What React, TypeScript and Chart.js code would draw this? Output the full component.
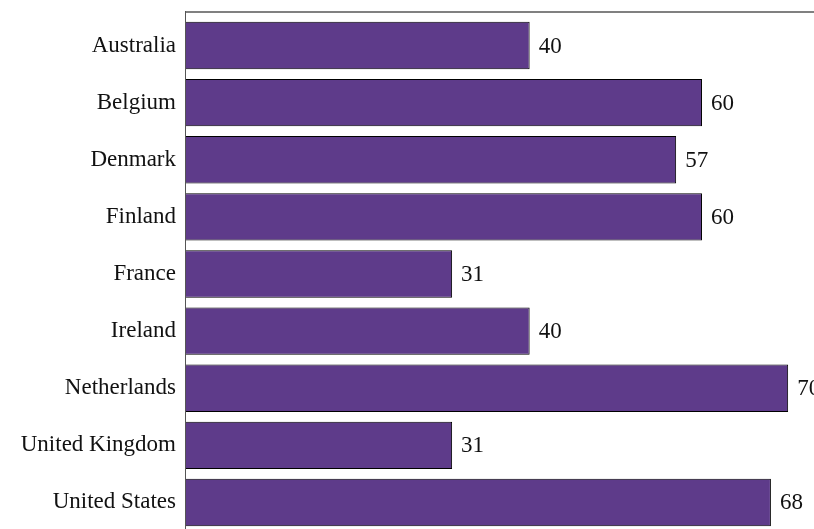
import React, { useEffect, useRef } from "react";
import { Chart, registerables } from "chart.js";

Chart.register(...registerables);

const categories = [
  "Australia",
  "Belgium",
  "Denmark",
  "Finland",
  "France",
  "Ireland",
  "Netherlands",
  "United Kingdom",
  "United States",
];
const values = [40, 60, 57, 60, 31, 40, 70, 31, 68];

const FONT = "'Liberation Serif', 'Times New Roman', serif";

const framePlugin = {
  id: "frame",
  afterDatasetsDraw(chart: any) {
    const { ctx, chartArea } = chart;
    ctx.save();
    // top line
    ctx.strokeStyle = "#808080";
    ctx.lineWidth = 2;
    ctx.beginPath();
    ctx.moveTo(chartArea.left, 12);
    ctx.lineTo(chartArea.right, 12);
    ctx.stroke();
    // left axis
    ctx.strokeStyle = "#555555";
    ctx.lineWidth = 1;
    ctx.beginPath();
    ctx.moveTo(chartArea.left + 0.5, 11);
    ctx.lineTo(chartArea.left + 0.5, chartArea.bottom);
    ctx.stroke();
    // value labels
    const meta = chart.getDatasetMeta(0);
    ctx.fillStyle = "#111111";
    ctx.font = `23px ${FONT}`;
    ctx.textAlign = "left";
    ctx.textBaseline = "middle";
    meta.data.forEach((bar: any, i: number) => {
      ctx.fillText(String(values[i]), bar.x + 9, bar.y + 1);
    });
    ctx.restore();
  },
};

export default function App() {
  const ref = useRef<HTMLCanvasElement>(null);
  useEffect(() => {
    document.body.style.margin = "0";
    const chart = new Chart(ref.current!, {
      type: "bar",
      data: {
        labels: categories,
        datasets: [
          {
            data: values,
            backgroundColor: "#5E3B8A",
            borderColor: "#000000",
            borderWidth: 1,
            categoryPercentage: 1,
            barPercentage: 0.83,
          },
        ],
      },
      options: {
        indexAxis: "y",
        responsive: false,
        animation: false,
        layout: { padding: { top: 17, right: 0, bottom: 0, left: 0 } },
        plugins: { legend: { display: false }, tooltip: { enabled: false } },
        scales: {
          x: {
            display: false,
            min: 0,
            max: 73,
          },
          y: {
            grid: { display: false, drawTicks: false },
            border: { display: false },
            ticks: {
              color: "#111111",
              padding: 9,
              font: { family: FONT, size: 23 },
            },
            afterFit: (scale: any) => {
              scale.width = 185;
              scale.paddingTop = 0;
              scale.paddingBottom = 0;
            },
          },
        },
      },
      plugins: [framePlugin],
    });
    return () => chart.destroy();
  }, []);
  return (
    <div style={{ width: 814, height: 529, overflow: "hidden" }}>
      <canvas ref={ref} width={814} height={531} style={{ display: "block" }} />
    </div>
  );
}
